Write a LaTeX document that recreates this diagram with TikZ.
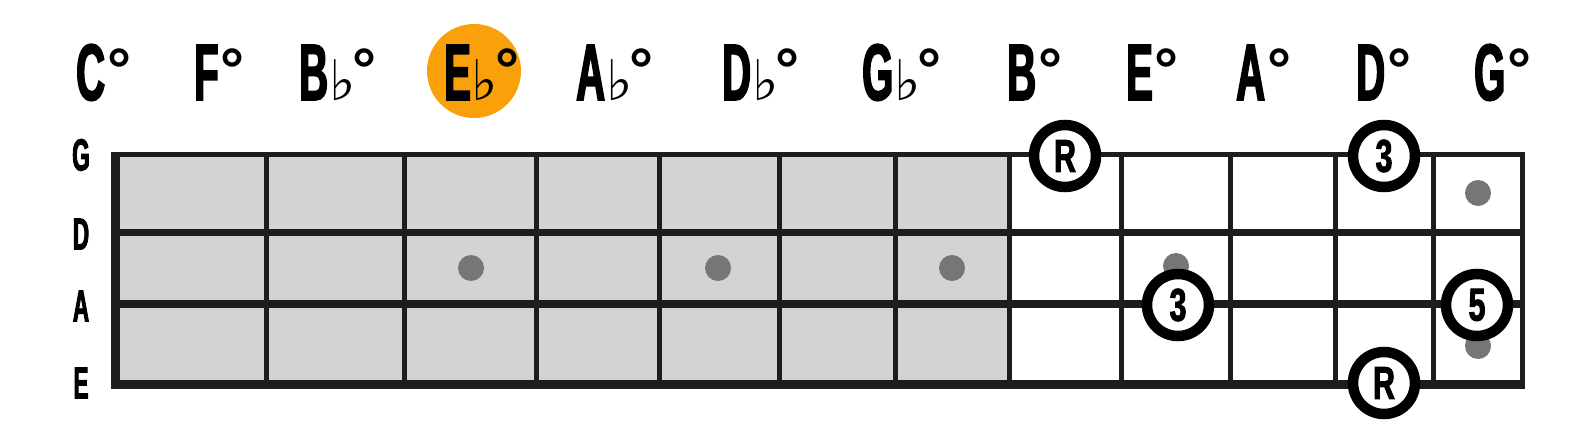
\documentclass[tikz,border=0pt]{standalone}
\usepackage{fontspec}
\usepackage{xcolor}
\usetikzlibrary{positioning}
\newfontfamily\hdfont{Liberation Sans}[FakeStretch=0.5,FakeBold=2]
\newfontfamily\ivfont{Liberation Sans}[FakeStretch=0.66,FakeBold=2]
\newfontfamily\degfont{Liberation Sans}
\newfontfamily\symfont{DejaVu Sans}
\definecolor{fretgrey}{RGB}{211,211,211}
\definecolor{dotgrey}{RGB}{118,118,118}
\definecolor{hlorange}{RGB}{250,160,10}
\definecolor{fretline}{RGB}{30,28,28}
\newcommand{\dg}{{\degfont\fontsize{60}{60}\selectfont\kern2pt\raisebox{10pt}{°}}}
\newcommand{\fl}{{\symfont\mdseries\fontsize{56}{56}\selectfont\kern1pt ♭\kern-5pt}}
\tikzset{
  hdlabel/.style={anchor=base west, inner sep=0pt, font=\hdfont\bfseries\fontsize{80}{80}\selectfont},
  strlabel/.style={inner sep=0pt, font=\hdfont\bfseries\fontsize{45}{45}\selectfont},
  ivbox/.style={circle, draw=black, line width=10.5pt, fill=white, minimum size=62pt, inner sep=0pt, font=\ivfont\bfseries\fontsize{46}{46}\selectfont},
  inlay/.style={circle, fill=dotgrey, minimum size=26pt, inner sep=0pt},
  hlspot/.style={circle, fill=hlorange, minimum size=94pt, inner sep=0pt},
  fret/.style={draw=fretline, line width=5pt},
  gstring/.style={draw=fretline, line width=5pt},
  dstring/.style={draw=fretline, line width=7pt},
  astring/.style={draw=fretline, line width=8pt},
  estring/.style={draw=fretline, line width=9.5pt}
}

\begin{document}
\begin{tikzpicture}[x=1pt,y=-1pt]
\useasboundingbox (0,0) rectangle (1595,428);

% chord names
\node[hlspot] (hl) at (474,71) {};
\node[hdlabel] (nC) at (76,100) {C\dg};
\node[hdlabel] (nF) at (194,100) {F\dg};
\node[hdlabel] (nBb) at (299,100) {B\fl\dg};
\node[hdlabel] (nEb) at (444,100) {E\fl\dg};
\node[hdlabel] (nAb) at (576,100) {A\fl\dg};
\node[hdlabel] (nDb) at (722,100) {D\fl\dg};
\node[hdlabel] (nGb) at (862,100) {G\fl\dg};
\node[hdlabel] (nB) at (1007,100) {B\dg};
\node[hdlabel] (nE) at (1126,100) {E\dg};
\node[hdlabel] (nA) at (1236,100) {A\dg};
\node[hdlabel] (nD) at (1356,100) {D\dg};
\node[hdlabel] (nG) at (1474,100) {G\dg};

% string names
\node[strlabel] (sG) at (81,155) {G};
\node[strlabel] (sD) at (81,234) {D};
\node[strlabel] (sA) at (81,306) {A};
\node[strlabel] (sE) at (81,383) {E};

% neck
\fill[fretgrey] (120,154) rectangle (1007,385);
\draw[fret] (266,154) -- (266,385) (404,154) -- (404,385) (536,154) -- (536,385)
  (659,154) -- (659,385) (779,154) -- (779,385) (895,154) -- (895,385)
  (1009,154) -- (1009,385) (1121,154) -- (1121,385) (1230,154) -- (1230,385)
  (1335,154) -- (1335,385) (1433,154) -- (1433,385) (1522,152) -- (1522,389);
\draw[gstring] (111,154.5) -- (1524.5,154.5);
\draw[dstring] (111,232) -- (1524.5,232);
\draw[astring] (111,304) -- (1524.5,304);
\draw[estring] (111,384.5) -- (1524.5,384.5);
\fill[fretline] (111,152) rectangle (120,389);

% inlays
\node[inlay] (m3) at (471,268) {};
\node[inlay] (m5) at (718,268) {};
\node[inlay] (m7) at (952,268) {};
\node[inlay] (m9) at (1176,266) {};
\node[inlay] (m12a) at (1478,193) {};
\node[inlay] (m12b) at (1478,346) {};

% chord tones
\node[ivbox] (rG) at (1065,156) {R};
\node[ivbox] (tG) at (1384,156) {3};
\node[ivbox] (tA) at (1178,305) {3};
\node[ivbox] (fA) at (1477,305) {5};
\node[ivbox] (rE) at (1384,383) {R};
\end{tikzpicture}
\end{document}
